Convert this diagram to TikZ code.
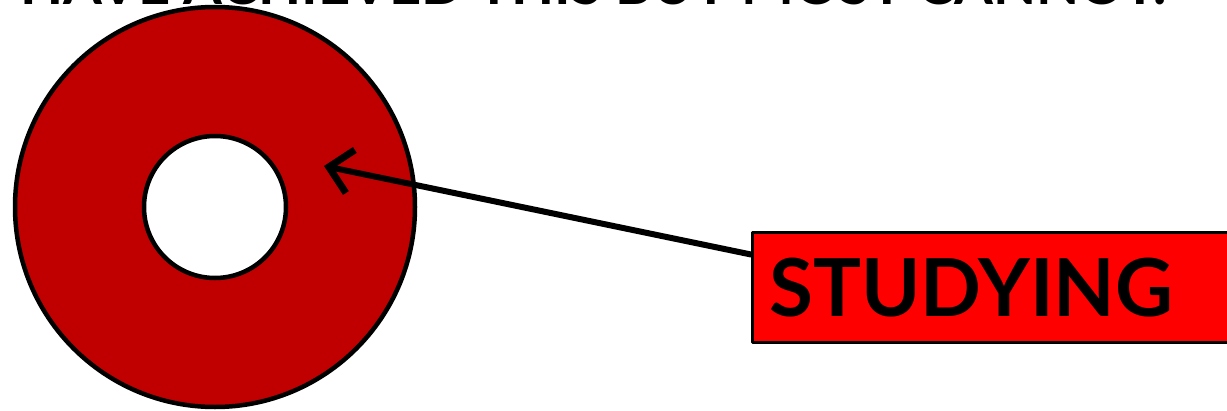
\documentclass[tikz,border=0pt]{standalone}
\usepackage{fontspec}
\setmainfont{Lato}
\usetikzlibrary{arrows.meta,positioning}
\definecolor{ringred}{RGB}{192,0,0}
\definecolor{boxred}{RGB}{255,0,0}
\begin{document}
\begin{tikzpicture}[
    x=1pt,
    y=-1pt,
    line join=round,
    line cap=round,
    ringline/.style={draw=black, line width=4.5pt},
    labelbox/.style={draw=black, line width=3pt, fill=boxred, anchor=north west,
        minimum width=500pt, minimum height=110pt, inner sep=0pt,
        text width=490pt, align=left, font=\fontsize{80}{80}\selectfont\bfseries}
]
    % 画布
    \useasboundingbox (0,0) rectangle (1227,410);
    \clip (0,0) rectangle (1227,410);

    % 标题（上方被截去）
    \node[anchor=base west, inner sep=0pt, font=\fontsize{56}{56}\selectfont\bfseries]
        (title) at (20,4) {HAVE ACHIEVED THIS BUT MOST CANNOT.};

    % 圆环
    \def\rout{200}
    \def\rin{71}
    \coordinate (O) at (215,207);
    \fill[ringred] (O) circle (\rout);
    \draw[ringline] (O) circle (\rout);
    \fill[white] (O) circle (\rin);
    \draw[ringline] (O) circle (\rin);
    \coordinate (tip) at (324,166);

    % 标签框
    \node[labelbox] (study) at (751,231) {\hspace*{12pt}STUDYING};

    % 箭头
    \draw[line width=6pt, -{Straight Barb[length=22pt, width=44pt, line width=7pt]}]
        ([yshift=33pt]study.west) -- (tip);

\end{tikzpicture}
\end{document}
